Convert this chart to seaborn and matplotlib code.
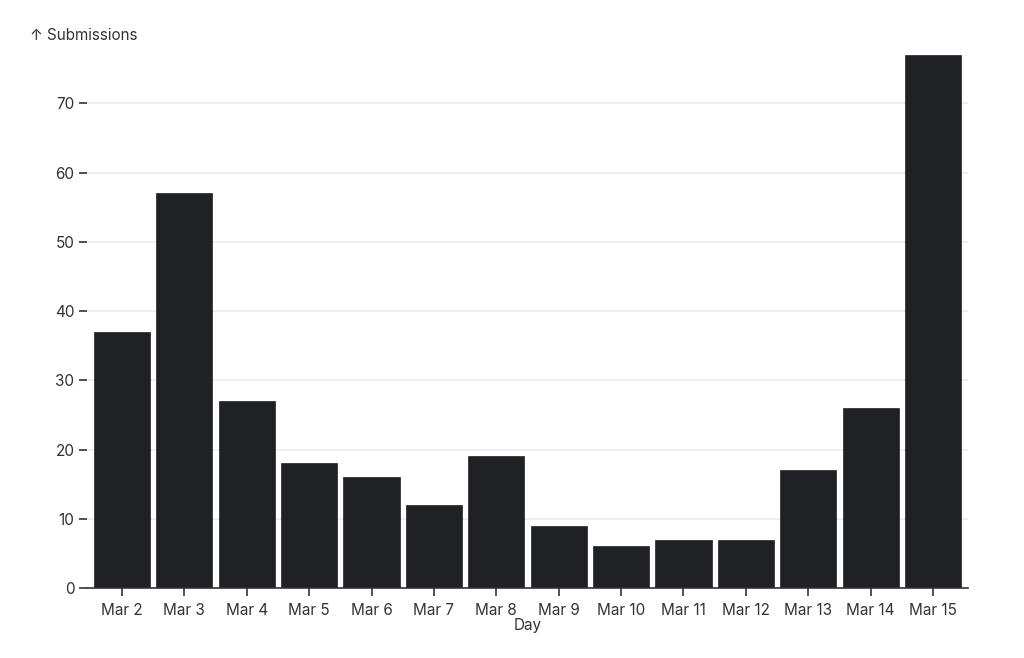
import matplotlib
matplotlib.use("Agg")
import pandas as pd
import seaborn as sns
import matplotlib.pyplot as plt

days = ["Mar 2", "Mar 3", "Mar 4", "Mar 5", "Mar 6", "Mar 7", "Mar 8",
        "Mar 9", "Mar 10", "Mar 11", "Mar 12", "Mar 13", "Mar 14", "Mar 15"]
submissions = [37, 57, 27, 18, 16, 12, 19, 9, 6, 7, 7, 17, 26, 77]
yticks = [0, 10, 20, 30, 40, 50, 60, 70]

sns.set_style("white")
plt.rcParams['font.family'] = ['Inter', 'DejaVu Sans']

df = pd.DataFrame({"Day": days, "Submissions": submissions})

fig = plt.figure(figsize=(10.24, 6.58), dpi=100)
ax = fig.add_axes([87/1024, (658-588)/658, (968-87)/1024, (588-55)/658])

for y in yticks[1:]:
  ax.axhline(y, color="#ebebeb", lw=1.2, zorder=0)

sns.barplot(data=df, x="Day", y="Submissions", order=days, color="#1f2125",
            saturation=1, width=0.9, edgecolor="#1f2125", linewidth=0.5, ax=ax, zorder=2)

ax.set_xlim(-0.56, 13.56)
ax.set_ylim(0, 77)
ax.set_yticks(yticks)
for s in ["top", "right", "left"]:
  ax.spines[s].set_visible(False)
ax.spines["bottom"].set_color("#333333")
ax.spines["bottom"].set_linewidth(1.2)
ax.spines["bottom"].set_zorder(3)

ax.tick_params(axis="both", left=True, bottom=True, labelsize=11, colors="#333333",
               length=6, width=1.2)
ax.tick_params(axis="y", pad=3)
ax.tick_params(axis="x", pad=5)
ax.set_ylabel("")
ax.set_xlabel("Day", fontsize=11, color="#333333", labelpad=0)

fig.text(30/1024, 1 - 35/658, "↑ Submissions", fontsize=11, color="#333333",
         ha="left", va="center")

fig.savefig("out.png", dpi=100)
